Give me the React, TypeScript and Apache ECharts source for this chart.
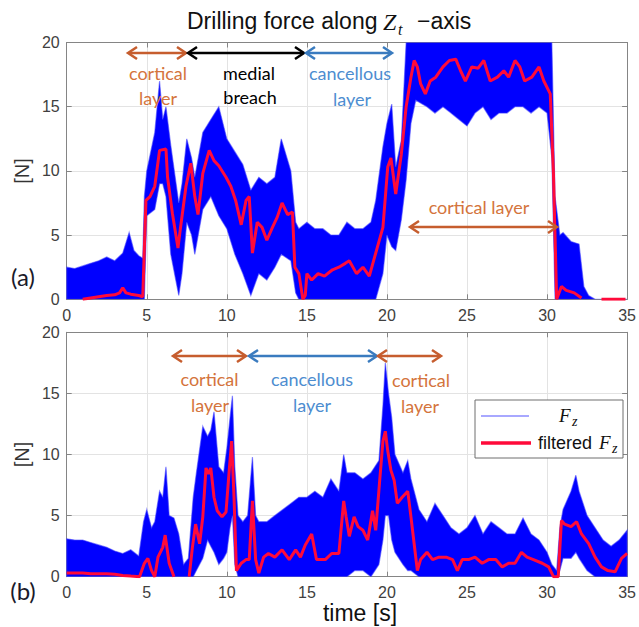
import React, { useEffect, useRef } from "react";
import * as echarts from "echarts";

// ---------- (a) raw signal envelope ----------
const envTimeA = [0, 0.5, 1, 1.5, 2, 2.5, 3, 3.5, 3.9, 4.2, 4.5, 4.75, 4.85, 5, 5.5, 5.8, 6, 6.2, 6.5, 7, 7.2, 7.5, 7.8, 8, 8.5, 9, 9.5, 10, 10.5, 11, 11.5, 12, 12.5, 13, 13.4, 14, 14.3, 14.5, 15, 15.5, 16, 16.5, 17, 17.5, 18, 18.5, 19, 19.3, 19.75, 20, 20.3, 20.55, 20.9, 21.2, 21.5, 21.8, 22.5, 23, 23.5, 24, 24.5, 25, 25.5, 26, 26.5, 27, 27.5, 28, 28.5, 29, 29.5, 30, 30.3, 30.5, 30.8, 31, 31.5, 32, 32.3, 32.6, 33, 35];
const maxA = [2.5, 2.4, 2.6, 2.8, 3.0, 3.3, 3.0, 3.6, 5.2, 3.8, 3.4, 3.2, 8, 10, 13, 17, 14, 15, 12, 7.5, 9, 12.5, 11, 9.5, 13, 14, 15, 12.5, 11.5, 10.5, 8.5, 9.5, 9, 9.5, 12.5, 10, 6, 5.5, 6, 5.5, 5.5, 5, 5, 6, 5.5, 5.5, 6, 7.7, 11.9, 13.7, 15.2, 10.3, 12.4, 20, 20, 20, 20, 20, 20, 20, 20, 20, 20, 20, 20, 20, 20, 20, 20, 20, 20, 20, 20, 8, 5, 5.2, 4.5, 4.3, 1, 0.3, 0, 0];
const minA = [0, 0, 0, 0, 0, 0, 0, 0, 0, 0, 0, 0, 0, 6.5, 7, 9, 9, 8, 3.5, 0.3, 2, 6, 5, 3.5, 7, 8, 6.5, 5.5, 3.5, 2, 0.3, 2, 1.5, 2.5, 3.5, 3, 0.5, 0, 0, 0, 0, 0, 0, 0, 0, 0, 0, 0, 2, 5, 4.1, 3.8, 6.2, 9.3, 13.7, 15.5, 15, 14.5, 15, 14.5, 14, 13.5, 14.5, 15, 14, 14.5, 14.5, 15, 15, 14.5, 15, 14.5, 11, 0, 0, 0, 0, 0, 0, 0, 0, 0];

// ---------- (a) filtered signal ----------
const redTimeA = [1, 1.5, 2, 2.5, 3, 3.3, 3.5, 3.7, 4, 4.5, 4.75, 4.95, 5.2, 5.5, 5.8, 6.2, 6.3, 6.6, 6.95, 7.1, 7.45, 7.75, 8, 8.2, 8.5, 8.9, 9.2, 9.5, 9.95, 10.25, 10.55, 10.9, 11.2, 11.4, 11.6, 11.9, 12.2, 12.5, 12.85, 13.15, 13.45, 13.8, 14.1, 14.25, 14.5, 14.75, 14.9, 15, 15.3, 15.7, 16.1, 16.6, 17, 17.4, 17.65, 18.1, 18.5, 18.9, 19.3, 19.75, 20.05, 20.25, 20.55, 20.9, 21.2, 21.5, 21.7, 21.9, 22.1, 22.4, 22.7, 23.05, 23.5, 23.9, 24.3, 24.6, 24.9, 25.3, 25.7, 26.05, 26.45, 26.9, 27.3, 27.6, 28, 28.3, 28.6, 29.05, 29.5, 29.8, 30.2, 30.4, 30.6, 30.9, 31.2, 31.7, 32.15, 32.8, 33.4, 34.9];
const redA = [0, 0.1, 0.2, 0.3, 0.35, 0.5, 0.9, 0.5, 0.4, 0.3, 0.2, 7.7, 8.0, 8.8, 11.6, 11.7, 9.5, 6.7, 4.0, 5.5, 8.8, 10.6, 8.0, 6.6, 9.8, 11.6, 10.8, 10.4, 9.5, 8.8, 7.7, 5.8, 7.7, 8.0, 3.6, 6.0, 5.6, 4.6, 5.6, 6.4, 7.5, 6.6, 6.8, 2.5, 2.0, 0, 0.3, 2.0, 1.5, 2.0, 1.8, 2.3, 2.5, 2.8, 3.0, 2.0, 2.5, 1.8, 3.6, 5.6, 10.3, 11.0, 8.2, 11.3, 15.0, 17.3, 18.6, 18.1, 16.8, 16.0, 17.0, 17.3, 18.1, 18.6, 18.7, 17.8, 17.0, 18.1, 18.0, 18.6, 17.0, 17.3, 17.8, 17.3, 18.6, 18.1, 17.0, 17.3, 18.1, 17.0, 16.0, 9.8, 0, 1.0, 0.7, 0.5, 0.1, null, 0, 0];

// ---------- (b) raw signal envelope ----------
const envTimeB = [0, 0.5, 1, 1.5, 2, 2.5, 3, 3.5, 4, 4.5, 4.8, 5, 5.3, 5.5, 5.8, 6, 6.2, 6.4, 6.7, 7, 7.3, 7.6, 7.9, 8.1, 8.5, 8.8, 9, 9.2, 9.5, 9.8, 10, 10.2, 10.35, 10.5, 10.7, 11, 11.3, 11.6, 11.8, 12, 12.5, 13, 13.5, 14, 14.5, 15, 15.5, 16, 16.5, 17, 17.3, 17.5, 18, 18.5, 19, 19.5, 19.75, 19.9, 20.1, 20.3, 20.5, 21, 21.3, 21.5, 22, 22.5, 23, 23.5, 24, 24.5, 25, 25.5, 26, 26.5, 27, 27.5, 28, 28.5, 29, 29.5, 30, 30.3, 30.6, 30.8, 31, 31.5, 31.8, 32, 32.5, 33, 33.5, 34, 34.5, 35];
const maxB = [3.1, 3.0, 3.0, 2.8, 2.6, 2.4, 2.1, 1.9, 2.2, 1.7, 4.5, 5.5, 4, 4.5, 7, 6.5, 9, 5, 4.8, 3.5, 1, 1.5, 6.5, 8.5, 12.3, 11.5, 12, 13.5, 9, 8.5, 10.5, 13, 14.8, 9, 5, 4.5, 5, 9.8, 5, 4.5, 4.5, 5, 5.5, 6, 6.5, 6.5, 7, 6.5, 8, 7, 10, 8.5, 8.5, 8, 8.5, 9.5, 14, 17.5, 15, 13, 10, 8.5, 9.5, 8, 5.5, 4.5, 6, 5, 4, 3.5, 4, 5, 3.5, 4.5, 4, 3.5, 3.5, 4.8, 3.5, 3, 2, 1, 0.5, 4, 5.5, 7, 8.3, 7, 5, 4, 3, 2.5, 3, 3.8];
const minB = [0, 0, 0, 0, 0, 0, 0, 0, 0, 0, 0, 0, 0, 0, 0, 0, 0, 0, 0, 0, 0, 0, 0, 0.5, 1.5, 3, 2.5, 2, 1, 1.5, 2, 4, 5, 1, 0, 0, 0, 0, 0, 0, 0, 0, 0, 0, 0, 0, 0, 0, 0, 0, 0, 0, 0.5, 0.5, 0, 1, 3, 5, 5, 3, 2, 1, 0.5, 0.5, 0, 0, 0, 0, 0, 0, 0, 0, 0, 0, 0, 0, 0, 0, 0, 0, 0, 0, 0, 0.5, 1.5, 1.5, 2, 1.5, 0.5, 0, 0, 0, 0, 0];

// ---------- (b) filtered signal ----------
const redTimeB = [0, 0.5, 1, 1.5, 2, 2.5, 3, 3.5, 4, 4.55, 4.85, 5.07, 5.3, 5.5, 5.7, 6.0, 6.15, 6.4, 6.7, 7.0, 7.65, 7.85, 8.05, 8.3, 8.5, 8.7, 8.85, 9.0, 9.2, 9.4, 9.7, 9.95, 10.15, 10.3, 10.45, 10.6, 10.9, 11.2, 11.4, 11.6, 11.8, 12.0, 12.3, 12.6, 13.0, 13.45, 13.9, 14.3, 14.6, 14.9, 15.3, 15.6, 16.15, 16.55, 17.0, 17.3, 17.45, 17.65, 17.95, 18.2, 18.5, 18.8, 19.1, 19.3, 19.55, 19.75, 19.9, 20.05, 20.25, 20.45, 20.65, 20.95, 21.3, 21.5, 21.7, 21.9, 22.1, 22.5, 22.85, 23.25, 23.7, 24.1, 24.4, 24.7, 25.1, 25.5, 25.95, 26.35, 26.8, 27.2, 27.6, 28.0, 28.4, 28.75, 29.15, 29.7, 30.1, 30.4, 30.7, 30.9, 31.1, 31.5, 31.85, 32.15, 32.6, 33.0, 33.4, 33.8, 34.25, 34.65, 35.0];
const redB = [0.3, 0.3, 0.3, 0.25, 0.25, 0.25, 0.2, 0.1, 0.05, 0, 1.1, 1.5, 0.5, 0, 1.6, 2.4, 3.4, 1.1, 0, null, 0, 2.4, 4.3, 2.7, 4.9, 8.9, 8.4, 8.9, 6.5, 5.4, 4.9, 5.3, 8.7, 11.1, 6.5, 0.5, 1.1, 1.4, 1.4, 6.2, 1.4, 0.3, 1.6, 1.9, 1.6, 2.2, 1.4, 2.2, 1.6, 2.6, 3.5, 1.4, 1.4, 1.9, 1.9, 6.2, 4.9, 3.3, 4.9, 4.1, 3.8, 3.0, 5.4, 3.8, 7.9, 11.1, 11.9, 10.3, 8.7, 7.9, 6.0, 6.5, 7.0, 4.9, 2.7, 0.5, 1.4, 2.0, 1.4, 1.6, 1.6, 1.4, 0.5, 1.4, 1.4, 1.6, 1.1, 1.4, 1.4, 0.8, 1.1, 1.1, 2.0, 1.6, 1.4, 1.1, 0.8, 0, 0, 4.6, 4.3, 4.1, 4.5, 3.5, 2.7, 1.6, 0.8, 0.5, 0.4, 1.5, 1.9];

const xTicks = { min: 0, max: 35, interval: 5 };
const yTicks = { min: 0, max: 20, interval: 5 };

const BLUE_SIG = "#0000ff";
const RED_SIG = "#ff0a3a";
const ORANGE = "#c65d2e";
const ORANGE_TXT = "#d4743c";
const BLUE_ARR = "#3a7bbf";
const BLUE_TXT = "#4d8dd0";
const AXIS = "#858585";

function pairs(t: number[], v: (number | null)[]) {
  return t.map((x, i) => [x, v[i] === null ? "-" : v[i]]);
}

function xAxisDef(grid: number, pos: "top" | "bottom") {
  const bottom = pos === "bottom";
  return {
    type: "value",
    gridIndex: grid,
    position: pos,
    ...xTicks,
    axisLine: { show: true, onZero: false, lineStyle: { color: AXIS, width: 1 } },
    axisTick: { show: true, inside: true, length: 5, lineStyle: { color: AXIS } },
    axisLabel: { show: bottom, color: "#404040", fontSize: 16, fontFamily: "Liberation Sans", margin: 8 },
    splitLine: { show: bottom, lineStyle: { color: "#e3e3e3", width: 1 } },
  };
}
function yAxisDef(grid: number, pos: "left" | "right") {
  const left = pos === "left";
  return {
    type: "value",
    gridIndex: grid,
    position: pos,
    ...yTicks,
    axisLine: { show: true, onZero: false, lineStyle: { color: AXIS, width: 1 } },
    axisTick: { show: true, inside: true, length: 5, lineStyle: { color: AXIS } },
    axisLabel: { show: left, color: "#404040", fontSize: 16, fontFamily: "Liberation Sans", margin: 7 },
    splitLine: { show: left, lineStyle: { color: "#e3e3e3", width: 1 } },
  };
}

// raw signal drawn as the band between its lower and upper envelope
function bandSeries(ax: number, t: number[], lo: number[], hi: number[]) {
  return {
    type: "custom",
    xAxisIndex: ax,
    yAxisIndex: ax,
    silent: true,
    clip: true,
    z: 2,
    data: t.map((x, i) => [x, lo[i], hi[i]]),
    encode: { x: 0, y: [1, 2] },
    renderItem: (params: any, api: any) => {
      if (params.dataIndex !== 0) return null;
      const pts: number[][] = [];
      for (let i = 0; i < t.length; i++) pts.push(api.coord([t[i], hi[i]]));
      for (let i = t.length - 1; i >= 0; i--) pts.push(api.coord([t[i], lo[i]]));
      return {
        type: "polygon",
        shape: { points: pts },
        style: { fill: BLUE_SIG, stroke: "rgba(60,60,255,0.55)", lineWidth: 1.2 },
      };
    },
  };
}

function redSeries(ax: number, t: number[], v: (number | null)[]) {
  return {
    type: "line",
    xAxisIndex: ax,
    yAxisIndex: ax,
    data: pairs(t, v),
    symbol: "none",
    connectNulls: false,
    lineStyle: { color: RED_SIG, width: 3 },
    silent: true,
    z: 3,
  };
}

type Arrow = { x1: number; x2: number; y: number; c: string };
const arrows: Arrow[] = [
  { x1: 128, x2: 186, y: 53, c: ORANGE },
  { x1: 188, x2: 304, y: 53, c: "#000000" },
  { x1: 306, x2: 392, y: 53, c: BLUE_ARR },
  { x1: 410, x2: 557, y: 227, c: ORANGE },
  { x1: 173, x2: 246, y: 356, c: ORANGE },
  { x1: 249, x2: 377, y: 356, c: BLUE_ARR },
  { x1: 378, x2: 441, y: 356, c: ORANGE },
];
type Lab = { t: string; x: number; y: number; c: string };
const labels: Lab[] = [
  { t: "cortical", x: 158, y: 73, c: ORANGE_TXT },
  { t: "layer", x: 158, y: 98, c: ORANGE_TXT },
  { t: "medial", x: 249, y: 73, c: "#000000" },
  { t: "breach", x: 250, y: 97, c: "#000000" },
  { t: "cancellous", x: 350, y: 73, c: BLUE_TXT },
  { t: "layer", x: 352, y: 99, c: BLUE_TXT },
  { t: "cortical layer", x: 479, y: 207, c: ORANGE_TXT },
  { t: "cortical", x: 209.5, y: 379, c: ORANGE_TXT },
  { t: "layer", x: 210, y: 405, c: ORANGE_TXT },
  { t: "cancellous", x: 312, y: 379, c: BLUE_TXT },
  { t: "layer", x: 312, y: 405, c: BLUE_TXT },
  { t: "cortical", x: 421, y: 380, c: ORANGE_TXT },
  { t: "layer", x: 420, y: 406, c: ORANGE_TXT },
];

function txt(text: string, x: number, y: number, font: string, fill: string, align = "center", extra: any = {}) {
  return {
    type: "text",
    x,
    y,
    z: 20,
    silent: true,
    ...extra,
    style: { text, font, fill, textAlign: align, textVerticalAlign: "middle", verticalAlign: "middle", align },
  };
}

function buildGraphic() {
  const g: any[] = [];
  const head = 9;
  const half = 6;
  arrows.forEach((a) => {
    const st = { stroke: a.c, lineWidth: 2.5, fill: "none" };
    g.push({ type: "line", z: 20, silent: true, shape: { x1: a.x1 + 1, y1: a.y, x2: a.x2 - 1, y2: a.y }, style: st });
    g.push({ type: "polyline", z: 20, silent: true, shape: { points: [[a.x1 + head, a.y - half], [a.x1, a.y], [a.x1 + head, a.y + half]] }, style: st });
    g.push({ type: "polyline", z: 20, silent: true, shape: { points: [[a.x2 - head, a.y - half], [a.x2, a.y], [a.x2 - head, a.y + half]] }, style: st });
  });
  labels.forEach((l) => g.push(txt(l.t, l.x, l.y, "18px Lato", l.c)));

  // title
  g.push(txt("Drilling force along", 187, 21, "23px 'Liberation Sans'", "#111111", "left"));
  g.push(txt("Z", 383, 22, "italic 24px 'Liberation Serif'", "#111111", "left"));
  g.push(txt("t", 398, 29, "italic 16px 'Liberation Serif'", "#111111", "left"));
  g.push(txt("\u2212axis", 417, 21, "23px 'Liberation Sans'", "#111111", "left"));

  // axis names / panel tags
  g.push(txt("[N]", 21.5, 171, "20px 'Liberation Sans'", "#333333", "center", { rotation: Math.PI / 2 }));
  g.push(txt("[N]", 21.5, 454.5, "20px 'Liberation Sans'", "#333333", "center", { rotation: Math.PI / 2 }));
  g.push(txt("time [s]", 360, 613, "23px 'Liberation Sans'", "#111111"));
  g.push(txt("(a)", 23, 276, "24px Lato", "#1a1a2a"));
  g.push(txt("(b)", 23, 590, "24px Lato", "#1a1a2a"));

  // legend
  g.push({ type: "rect", z: 19, silent: true, shape: { x: 475, y: 400, width: 148, height: 58 }, style: { fill: "#ffffff", stroke: "#6e6e6e", lineWidth: 1 } });
  g.push({ type: "line", z: 20, silent: true, shape: { x1: 481, y1: 416, x2: 529, y2: 416 }, style: { stroke: "rgba(60,60,255,0.6)", lineWidth: 1.5 } });
  g.push(txt("F", 559, 415, "italic 19px 'Liberation Serif'", "#111111", "left"));
  g.push(txt("z", 572, 421, "italic 14px 'Liberation Serif'", "#111111", "left"));
  g.push({ type: "line", z: 20, silent: true, shape: { x1: 481, y1: 443, x2: 531, y2: 443 }, style: { stroke: RED_SIG, lineWidth: 3.5 } });
  g.push(txt("filtered", 538, 443, "18px 'Liberation Sans'", "#111111", "left"));
  g.push(txt("F", 599, 442, "italic 19px 'Liberation Serif'", "#111111", "left"));
  g.push(txt("z", 612, 448, "italic 14px 'Liberation Serif'", "#111111", "left"));
  return g;
}

export default function App() {
  const ref = useRef<HTMLDivElement>(null);
  useEffect(() => {
    if (!ref.current) return;
    const chart = echarts.init(ref.current, null, { renderer: "svg" });
    const option: any = {
      animation: false,
      backgroundColor: "#ffffff",
      grid: [
        { left: 66.7, top: 42.5, width: 563.3, height: 256.8, containLabel: false },
        { left: 66.7, top: 332.3, width: 563.3, height: 244.4, containLabel: false },
      ],
      xAxis: [xAxisDef(0, "bottom"), xAxisDef(0, "top"), xAxisDef(1, "bottom"), xAxisDef(1, "top")],
      yAxis: [yAxisDef(0, "left"), yAxisDef(0, "right"), yAxisDef(1, "left"), yAxisDef(1, "right")],
      series: [
        bandSeries(0, envTimeA, minA, maxA),
        redSeries(0, redTimeA, redA),
        bandSeries(2, envTimeB, minB, maxB),
        redSeries(2, redTimeB, redB),
        { type: "line", xAxisIndex: 1, yAxisIndex: 1, data: [], silent: true },
        { type: "line", xAxisIndex: 3, yAxisIndex: 3, data: [], silent: true },
      ],
      graphic: buildGraphic(),
    };
    chart.setOption(option);
    return () => chart.dispose();
  }, []);
  return <div ref={ref} style={{ position: "fixed", left: 0, top: 0, width: 639, height: 627 }} />;
}
